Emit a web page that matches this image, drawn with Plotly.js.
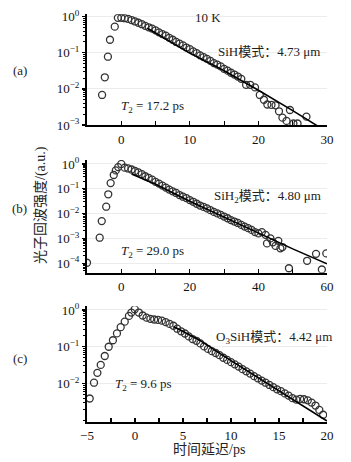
<!DOCTYPE html>
<html>
<head>
<meta charset="utf-8">
<script src="https://cdn.plot.ly/plotly-3.0.1.min.js"></script>
<style>
html,body{margin:0;padding:0;background:#fff;}
#chart{width:351px;height:462px;}
</style>
</head>
<body>
<div id="chart"></div>
<script>
// ---------- data ----------
// Panel (a): SiH mode, 4.73 um, T2 = 17.2 ps
const aX = [-2.8,-2.4,-1.95,-1.65,-0.95,
  -0.5,0,0.5,1,1.5,2,2.5,3,3.5,4,4.5,5,5.5,6,6.5,7,7.5,8,8.5,9,9.5,10,10.5,11,11.5,12,12.5,13,13.5,14,14.5,15,15.5,16,16.5,17,17.5,
  18.2,18.8,19.5,20.2,20.8,21.3,21.9,22.5,23.0,23.5,24.1,24.6,25.1,25.7,27.0];
const aY = [0.0068,0.021,0.078,0.23,0.53,
  0.93,0.93,0.91,0.87,0.81,0.74,0.68,0.62,0.56,0.51,0.47,0.42,0.37,0.33,0.30,0.26,0.23,0.20,0.18,0.16,0.14,0.126,0.11,0.098,0.085,0.076,0.068,0.060,0.052,0.047,0.042,0.036,0.032,0.028,0.025,0.022,0.019,
  0.013,0.013,0.011,0.0068,0.005,0.0037,0.0036,0.0035,0.0024,0.0016,0.0013,0.0026,0.0011,0.0011,0.0017];
const aFitX = [3.8,10,15,20,25,29];
const aFitY = [0.48,0.098,0.032,0.0092,0.0025,0.00085];

// Panel (b): SiH2 mode, 4.80 um, T2 = 29.0 ps
const bX = [-10,-6.3,-5.7,-4.4,-3.8,-3.1,-2.2,-1.6,-0.9,
  0,1,2,3,4,5,6,7,8,9,10,11,12,13,14,15,16,17,18,19,20,21,22,23,24,25,26,27,28,29,30,31,32,33,34,35,36,37,38,39,40,
  41,42.1,42.5,43.5,44.2,45,45.8,46.4,47,48.9,54.2,56.8,58.5,59.8];
const bY = [1.05e-4,1.07e-3,5e-3,0.019,0.06,0.17,0.36,0.55,0.75,
  1.0,0.71,0.66,0.60,0.52,0.46,0.39,0.32,0.275,0.234,0.19,0.162,0.135,0.112,0.093,0.079,0.068,0.056,0.048,0.042,0.035,0.030,0.025,0.021,0.0186,0.0162,0.0138,0.0117,0.0102,0.0089,0.0076,0.0065,0.0055,0.0048,0.0042,0.0035,0.0030,0.0026,0.0022,0.0018,0.0016,
  0.0018,0.0014,0.00063,0.001,0.0007,0.0005,0.0008,0.0004,0.00045,6.3e-5,1.26e-4,2.4e-4,5.6e-5,2.5e-4];
const bFitX = [3,10,20,30,40,50,60];
const bFitY = [0.398,0.151,0.0316,0.00708,0.00158,0.00038,0.0000955];

// Panel (c): O3SiH mode, 4.42 um, T2 = 9.6 ps
const cX = [-4.72,-4.27,-3.92,-3.57,-3.15,-2.74,-2.3,-1.88,-1.49,-1.07,-0.63,-0.38,-0.03,
  0.4,0.8,1.2,1.6,2.0,2.4,2.8,3.2,3.6,4.0,4.4,4.8,5.2,5.6,6.0,6.4,6.8,7.2,7.6,8.0,8.4,8.8,9.2,9.6,10.0,10.4,10.8,11.2,11.6,12.0,12.4,12.8,13.2,13.6,14.0,14.4,14.8,15.2,15.6,16.0,16.4,16.8,17.2,17.6,18.0,18.4,18.8,19.2,19.6];
const cY = [0.0039,0.0105,0.0195,0.032,0.056,0.1,0.15,0.23,0.34,0.48,0.69,0.85,1.05,
  0.851,0.708,0.617,0.575,0.550,0.537,0.513,0.468,0.417,0.372,0.309,0.263,0.229,0.191,0.162,0.145,0.123,0.102,0.0871,0.0759,0.0676,0.0589,0.0501,0.0437,0.0380,0.0331,0.0288,0.0245,0.0214,0.0186,0.0158,0.0138,0.0120,0.0105,0.00912,0.00794,0.00692,0.00617,0.00537,0.00468,0.00398,0.00363,0.00380,0.00372,0.00347,0.00302,0.00251,0.00191,0.00141];
const cFitX = [4,6.6,10,15,20];
const cFitY = [0.355,0.158,0.0417,0.0063,0.00095];

// tick labels
const aXTicks = [0,10,20,30];
const bXTicks = [0,20,40,60];
const cXTicks = [-5,0,5,10,15,20];
const aYTickVals = [1,0.1,0.01,0.001];
const aYTickText = ['10<sup>0</sup>','10<sup>−1</sup>','10<sup>−2</sup>','10<sup>−3</sup>'];
const bYTickVals = [1,0.1,0.01,0.001,0.0001];
const bYTickText = ['10<sup>0</sup>','10<sup>−1</sup>','10<sup>−2</sup>','10<sup>−3</sup>','10<sup>−4</sup>'];
const cYTickVals = [1,0.1,0.01];
const cYTickText = ['10<sup>0</sup>','10<sup>−1</sup>','10<sup>−2</sup>'];

// ---------- layout helpers ----------
const W = 351, H = 462;
const px = v => v / W;
const py = v => 1 - v / H;
const SERIF = 'Liberation Serif, Times New Roman, Noto Sans CJK SC, serif';
const tickFont = {family: SERIF, size: 13, color: '#111'};
const xDom = [px(87), px(327)];

const marker = {symbol: 'circle-open', size: 7, color: '#333', line: {width: 1.3, color: '#333'}};
function pts(x, y, xa, ya) {
  return {x: x, y: y, xaxis: xa, yaxis: ya, type: 'scatter', mode: 'markers', marker: marker, hoverinfo: 'skip'};
}
function fit(x, y, xa, ya) {
  return {x: x, y: y, xaxis: xa, yaxis: ya, type: 'scatter', mode: 'lines', line: {color: '#000', width: 1.6}, hoverinfo: 'skip'};
}

function xAxis(range, ticks, minorStep, anchor) {
  return {
    domain: xDom, range: range, anchor: anchor, tickmode: 'array', tickvals: ticks,
    showline: true, linecolor: '#000', linewidth: 2, mirror: false,
    ticks: 'inside', ticklen: 4, tickwidth: 1.2, tickcolor: '#000',
    minor: {tickmode: 'linear', tick0: 0, dtick: minorStep, ticks: 'inside', ticklen: 4, tickwidth: 1.2, tickcolor: '#000', showgrid: false},
    showgrid: false, zeroline: false, tickfont: tickFont, ticklabelstandoff: 1
  };
}
function yAxis(domain, range, vals, text, anchor) {
  return {
    type: 'log', domain: domain, range: range, anchor: anchor,
    tickmode: 'array', tickvals: vals, ticktext: text,
    showline: true, linecolor: '#000', linewidth: 2,
    ticks: 'outside', ticklen: 3, tickwidth: 1.2, tickcolor: '#000',
    minor: {tickmode: 'linear', dtick: 'D1', ticks: 'outside', ticklen: 2, tickwidth: 1, tickcolor: '#000', showgrid: false},
    showgrid: true, gridcolor: '#ececec', gridwidth: 1, zeroline: false, tickfont: tickFont
  };
}

const traces = [
  pts(aX, aY, 'x', 'y'), fit(aFitX, aFitY, 'x', 'y'),
  pts(bX, bY, 'x2', 'y2'), fit(bFitX, bFitY, 'x2', 'y2'),
  pts(cX, cY, 'x3', 'y3'), fit(cFitX, cFitY, 'x3', 'y3')
];

function ann(x, y, text, size, extra) {
  return Object.assign({xref: 'paper', yref: 'paper', x: px(x), y: py(y), text: text, showarrow: false,
    xanchor: 'center', yanchor: 'middle', font: {family: SERIF, size: size, color: '#222'}}, extra || {});
}

const layout = {
  width: W, height: H,
  margin: {l: 0, r: 0, t: 0, b: 0},
  paper_bgcolor: '#fff', plot_bgcolor: '#fff',
  showlegend: false,
  font: {family: SERIF, size: 13, color: '#111'},
  xaxis: xAxis([-5, 30], aXTicks, 5, 'y'),
  yaxis: yAxis([py(125), py(14.2)], [-3, 0.07], aYTickVals, aYTickText, 'x'),
  xaxis2: xAxis([-10, 60], bXTicks, 10, 'y2'),
  yaxis2: yAxis([py(272.7), py(160)], [-4.38, 0.16], bYTickVals, bYTickText, 'x2'),
  xaxis3: xAxis([-5, 20], cXTicks, 2.5, 'y3'),
  yaxis3: yAxis([py(421.7), py(306.3)], [-3.04, 0.1], cYTickVals, cYTickText, 'x3'),
  annotations: [
    ann(19.5, 71, '(a)', 13),
    ann(19.5, 209, '(b)', 13),
    ann(19.5, 358, '(c)', 13),
    ann(207.5, 17, '10 K', 13),
    ann(268.5, 52, 'SiH模式：4.73 μm', 13),
    ann(267.5, 197, 'SiH<sub>2</sub>模式：4.80 μm', 13),
    ann(274, 337, 'O<sub>3</sub>SiH模式：4.42 μm', 13),
    ann(152.5, 106, '<i>T</i><sub>2</sub> = 17.2 ps', 13),
    ann(152.5, 251, '<i>T</i><sub>2</sub> = 29.0 ps', 13),
    ann(143.5, 384, '<i>T</i><sub>2</sub> = 9.6 ps', 13),
    ann(209, 449, '时间延迟/ps', 14),
    ann(41, 205, '光子回波强度/(a.u.)', 14, {textangle: -90})
  ]
};

Plotly.newPlot('chart', traces, layout, {staticPlot: true, displayModeBar: false});
</script>
</body>
</html>
